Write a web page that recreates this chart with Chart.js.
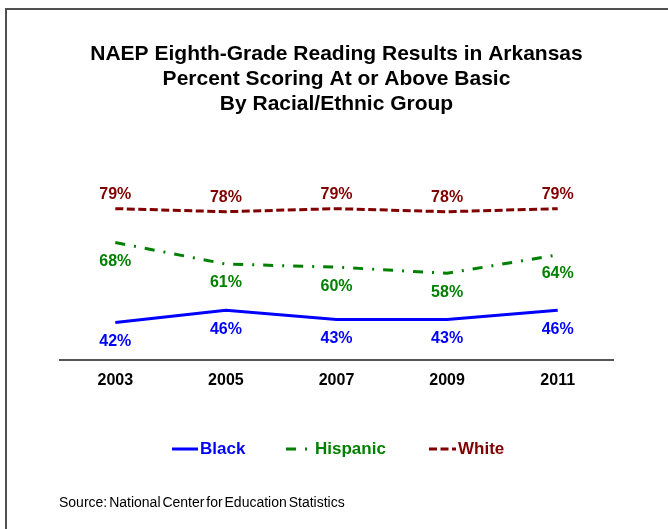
<!DOCTYPE html>
<html>
<head>
<meta charset="utf-8">
<script src="https://cdn.jsdelivr.net/npm/chart.js@4.4.1/dist/chart.umd.min.js"></script>
<style>
  html, body { margin: 0; padding: 0; background: #fff; overflow: hidden; }
  #wrap { position: relative; width: 668px; height: 529px; }
  #frame {
    position: absolute; left: 5px; top: 8px; width: 700px; height: 600px;
    border-left: 2px solid #505050; border-top: 2px solid #505050;
  }
  #chart { position: absolute; left: 0; top: 0; }
</style>
</head>
<body>
<div id="wrap">
  <div id="frame"></div>
  <canvas id="chart" width="668" height="529"></canvas>
</div>
<script>
const years = ["2003", "2005", "2007", "2009", "2011"];
const black = [42, 46, 43, 43, 46];
const hispanic = [68, 61, 60, 58, 64];
const white = [79, 78, 79, 78, 79];
const seriesNames = ["Black", "Hispanic", "White"];
const seriesColors = ["#0000ff", "#008000", "#800000"];
const titleLines = [
  "NAEP Eighth-Grade Reading Results in Arkansas",
  "Percent Scoring At or Above Basic",
  "By Racial/Ethnic Group",
];
const sourceNote = "Source: National Center for Education Statistics";

const FONT = "'Liberation Sans', Arial, sans-serif";

/**
 * Writes the value of every point next to it, in the series colour
 */
const valueLabels = {
  id: "valueLabels",
  afterDatasetsDraw(chart) {
    const ctx = chart.ctx;
    ctx.save();
    ctx.font = "bold 16px " + FONT;
    ctx.textAlign = "center";
    ctx.textBaseline = "middle";
    chart.data.datasets.forEach((ds, i) => {
      const meta = chart.getDatasetMeta(i);
      ctx.fillStyle = ds.borderColor;
      meta.data.forEach((pt, j) => {
        ctx.fillText(ds.data[j] + "%", pt.x, pt.y + ds.labelOffset);
      });
    });
    ctx.restore();
  },
};

/**
 * Legend under the axis and the source line at the bottom
 */
const footer = {
  id: "footer",
  afterDraw(chart) {
    const ctx = chart.ctx;
    const y = 449;
    const spots = [
      { x0: 172, x1: 198, tx: 200 },
      { x0: 286, x1: 308, tx: 315 },
      { x0: 429, x1: 456, tx: 458 },
    ];
    ctx.save();
    chart.data.datasets.forEach((ds, i) => {
      const s = spots[i];
      ctx.strokeStyle = ds.borderColor;
      ctx.lineWidth = 3;
      ctx.setLineDash(ds.borderDash || []);
      ctx.beginPath();
      ctx.moveTo(s.x0, y);
      ctx.lineTo(s.x1, y);
      ctx.stroke();
      ctx.setLineDash([]);
      ctx.fillStyle = ds.borderColor;
      ctx.font = "bold 17px " + FONT;
      ctx.textAlign = "left";
      ctx.textBaseline = "middle";
      ctx.fillText(ds.label, s.tx, y);
    });

    ctx.fillStyle = "#000";
    ctx.font = "14px " + FONT;
    ctx.wordSpacing = "-2px";
    ctx.textAlign = "left";
    ctx.textBaseline = "alphabetic";
    ctx.fillText(sourceNote, 59, 507);
    ctx.restore();
  },
};

new Chart(document.getElementById("chart"), {
  type: "line",
  plugins: [valueLabels, footer],
  data: {
    labels: years,
    datasets: [
      {
        label: seriesNames[0],
        data: black,
        borderColor: seriesColors[0],
        borderWidth: 3,
        labelOffset: 19,
      },
      {
        label: seriesNames[1],
        data: hispanic,
        borderColor: seriesColors[1],
        borderWidth: 3,
        borderDash: [10, 9, 2, 9],
        labelOffset: 19,
      },
      {
        label: seriesNames[2],
        data: white,
        borderColor: seriesColors[2],
        borderWidth: 3,
        borderDash: [8, 3.5],
        labelOffset: -14,
      },
    ],
  },
  options: {
    responsive: false,
    animation: false,
    layout: { padding: { left: 60, right: 55, top: 0, bottom: 0 } },
    elements: {
      point: { radius: 0, hoverRadius: 0 },
      line: { tension: 0, borderCapStyle: "butt", fill: false },
    },
    plugins: {
      legend: { display: false },
      tooltip: { enabled: false },
      title: {
        display: true,
        text: titleLines,
        color: "#000",
        font: { family: FONT, size: 21, weight: "bold", lineHeight: 25 / 21 },
        padding: { top: 41.5, bottom: 27.5 },
      },
    },
    scales: {
      x: {
        offset: true,
        grid: { display: false, drawTicks: false },
        border: { display: true, color: "#555", width: 2 },
        ticks: {
          color: "#000",
          padding: 11,
          font: { family: FONT, size: 16, weight: "bold" },
        },
        afterFit: (scale) => { scale.height = 529 - 359.5; },
      },
      y: {
        display: false,
        min: 30,
        max: 100,
      },
    },
  },
});
</script>
</body>
</html>
